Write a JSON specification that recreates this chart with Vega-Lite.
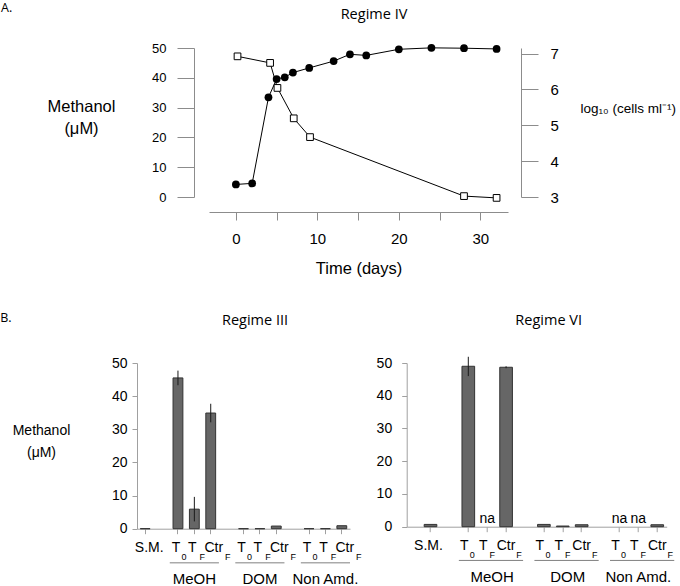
{
  "$schema": "https://vega.github.io/schema/vega-lite/v6.json",
  "padding": {"left": 0, "top": 2, "right": 0, "bottom": 0},
  "background": "white",
  "config": {
    "view": {"stroke": null},
    "font": "Liberation Sans",
    "axis": {"grid": false, "labelColor": "#000", "titleColor": "#000", "domainColor": "#8c8c8c", "tickColor": "#8c8c8c", "labelFont": "Liberation Sans", "titleFont": "Liberation Sans", "titleFontWeight": "normal"},
    "title": {"font": "Open Sans", "fontWeight": "normal", "color": "#000"}
  },
  "spacing": 35,
  "vconcat": [
    {
      "spacing": 0,
      "bounds": "flush",
      "hconcat": [
        {
          "width": 72, "height": 20,
          "data": {"values": []},
          "mark": "point",
          "title": {"text": "A.", "anchor": "start", "dx": -136, "offset": 33.5, "fontSize": 12.5}
        },
        {
          "width": 299, "height": 149,
          "title": {"text": "Regime IV", "frame": "group", "dx": 15.5, "offset": 20, "fontSize": 14.5},
          "encoding": {
            "x": {"field": "day", "type": "quantitative", "scale": {"domain": [-3.3, 33.4], "nice": false, "zero": false},
              "axis": {"orient": "bottom", "offset": 15, "values": [0, 5, 10, 15, 20, 25, 30], "labelExpr": "datum.value % 10 === 0 ? datum.label : ''", "tickSize": 8, "labelPadding": 11, "labelFontSize": 15, "title": "Time (days)", "titleFontSize": 16.5, "titlePadding": 14}}
          },
          "layer": [
            {
              "data": {"values": [
                {"day": 0, "log": 3.35}, {"day": 2, "log": 3.38}, {"day": 4, "log": 5.78}, {"day": 5, "log": 6.29},
                {"day": 6, "log": 6.34}, {"day": 7, "log": 6.47}, {"day": 9, "log": 6.6}, {"day": 12, "log": 6.79},
                {"day": 14, "log": 6.98}, {"day": 16, "log": 6.95}, {"day": 20, "log": 7.12}, {"day": 24, "log": 7.16},
                {"day": 28, "log": 7.15}, {"day": 32, "log": 7.13}
              ]},
              "encoding": {
                "y": {"field": "log", "type": "quantitative", "scale": {"domain": [3, 7.156], "nice": false, "zero": false},
                  "axis": {"orient": "right", "offset": 13, "values": [3, 4, 5, 6, 7], "tickSize": 17, "labelPadding": 12, "labelFontSize": 15, "labelOverlap": false, "title": "log₁₀ (cells ml⁻¹)", "titleAngle": 0, "titleAlign": "left", "titleBaseline": "middle", "titleX": 59, "titleY": 60, "titleFontSize": 13.5}}
              },
              "layer": [
                {"mark": {"type": "line", "color": "#000", "strokeWidth": 1}},
                {"mark": {"type": "point", "shape": "circle", "filled": true, "color": "#000", "size": 60, "opacity": 1}}
              ]
            },
            {
              "data": {"values": [
                {"day": 0.2, "methanol": 47.2}, {"day": 4.2, "methanol": 45.0}, {"day": 5.1, "methanol": 36.6},
                {"day": 7.1, "methanol": 26.4}, {"day": 9.1, "methanol": 20.1}, {"day": 28, "methanol": 0.3}, {"day": 32, "methanol": -0.3}
              ]},
              "encoding": {
                "y": {"field": "methanol", "type": "quantitative", "scale": {"domain": [0, 50], "nice": false, "zero": false},
                  "axis": {"orient": "left", "offset": 15, "values": [0, 10, 20, 30, 40, 50], "tickSize": 17, "labelPadding": 11, "labelFontSize": 13, "labelOverlap": false, "title": ["Methanol", "(μM)"], "titleAngle": 0, "titleAlign": "center", "titleBaseline": "top", "titleX": -113, "titleY": 50, "titleFontSize": 16.5, "titleLineHeight": 22}}
              },
              "layer": [
                {"mark": {"type": "line", "color": "#000", "strokeWidth": 1}},
                {"mark": {"type": "point", "shape": "square", "filled": true, "fill": "#fff", "stroke": "#000", "strokeWidth": 1, "size": 45, "opacity": 1}}
              ]
            }
          ],
          "resolve": {"scale": {"y": "independent"}}
        }
      ]
    },
    {
      "title": {"text": "B.", "anchor": "start", "frame": "bounds", "dx": -12, "offset": -12, "fontSize": 12.5},
      "spacing": 56.7,
      "bounds": "flush",
      "hconcat": [
        {
          "width": 213, "height": 165.7,
          "title": {"text": "Regime III", "frame": "group", "dx": 11.5, "offset": 28, "fontSize": 14.5},
          "resolve": {"axis": {"x": "independent"}},
          "layer": [
            {
              "data": {"values": [
                {"cat": "SM", "value": 0}, {"cat": "MeOH_T0", "value": 45.5}, {"cat": "MeOH_TF", "value": 5.9}, {"cat": "MeOH_Ctr", "value": 34.9},
                {"cat": "DOM_T0", "value": 0}, {"cat": "DOM_TF", "value": 0}, {"cat": "DOM_Ctr", "value": 0.8},
                {"cat": "Non_T0", "value": 0}, {"cat": "Non_TF", "value": 0}, {"cat": "Non_Ctr", "value": 0.9}
              ]},
              "mark": {"type": "bar", "fill": "#666666", "stroke": "#333333", "strokeWidth": 1, "width": {"band": 0.6}},
              "encoding": {
                "x": {"field": "cat", "type": "nominal", "scale": {"domain": ["SM", "sp1", "MeOH_T0", "MeOH_TF", "MeOH_Ctr", "sp2", "DOM_T0", "DOM_TF", "DOM_Ctr", "sp3", "Non_T0", "Non_TF", "Non_Ctr"], "paddingInner": 0, "paddingOuter": 0},
                  "axis": {"orient": "bottom", "values": ["SM", "MeOH_T0", "MeOH_TF", "MeOH_Ctr", "DOM_T0", "DOM_TF", "DOM_Ctr", "Non_T0", "Non_TF", "Non_Ctr"], "labelExpr": "datum.value == 'SM' ? 'S.M.' : test(/Ctr$/, datum.value) ? 'Ctr' : 'T'", "tickSize": 5, "labelPadding": 7, "labelFontSize": 14, "labelAngle": 0, "title": null, "domainColor": "#a0a0a0", "tickColor": "#a0a0a0",
                    "labelOffset": {"condition": [{"test": "datum.value == 'SM'", "value": 4}, {"test": "test(/Ctr$/, datum.value)", "value": 3}], "value": -2}}},
                "y": {"field": "value", "type": "quantitative", "scale": {"domain": [0, 50], "nice": false},
                  "axis": {"orient": "left", "values": [0, 10, 20, 30, 40, 50], "tickSize": 5, "labelPadding": 5, "labelFontSize": 14, "labelOverlap": false, "domainColor": "#a0a0a0", "tickColor": "#a0a0a0", "title": ["Methanol", "(μM)"], "titleAngle": 0, "titleAlign": "center", "titleBaseline": "top", "titleX": -96, "titleY": 60, "titleFontSize": 14, "titleLineHeight": 22}}
              }
            },
            {
              "data": {"values": [
                {"cat": "MeOH_T0", "lo": 43.3, "hi": 47.7}, {"cat": "MeOH_TF", "lo": 2.2, "hi": 9.6}, {"cat": "MeOH_Ctr", "lo": 32.1, "hi": 37.7}
              ]},
              "mark": {"type": "rule", "color": "#1a1a1a", "strokeWidth": 1},
              "encoding": {
                "x": {"field": "cat", "type": "nominal", "scale": {"domain": ["SM", "sp1", "MeOH_T0", "MeOH_TF", "MeOH_Ctr", "sp2", "DOM_T0", "DOM_TF", "DOM_Ctr", "sp3", "Non_T0", "Non_TF", "Non_Ctr"], "paddingInner": 0, "paddingOuter": 0},
                  "axis": {"orient": "bottom", "values": ["MeOH_T0", "MeOH_TF", "MeOH_Ctr", "DOM_T0", "DOM_TF", "DOM_Ctr", "Non_T0", "Non_TF", "Non_Ctr"], "labelExpr": "test(/T0$/, datum.value) ? '0' : 'F'", "ticks": false, "tickSize": 0, "domain": false, "labelPadding": 24, "labelFontSize": 9, "labelAngle": 0, "title": null,
                    "labelOffset": {"condition": [{"test": "test(/Ctr$/, datum.value)", "value": 17}, {"test": "test(/TF$/, datum.value)", "value": 8}], "value": 6}}},
                "y": {"field": "lo", "type": "quantitative", "axis": {"orient": "left", "values": [0, 10, 20, 30, 40, 50], "tickSize": 5, "labelPadding": 5, "labelFontSize": 14, "labelOverlap": false, "domainColor": "#a0a0a0", "tickColor": "#a0a0a0", "title": ["Methanol", "(μM)"], "titleAngle": 0, "titleAlign": "center", "titleBaseline": "top", "titleX": -96, "titleY": 60, "titleFontSize": 14, "titleLineHeight": 22}},
                "y2": {"field": "hi"}
              }
            },
            {
              "data": {"values": [
                {"group": "MeOH", "start": "MeOH_T0", "end": "MeOH_Ctr"}, {"group": "DOM", "start": "DOM_T0", "end": "DOM_Ctr"}, {"group": "Non Amd.", "start": "Non_T0", "end": "Non_Ctr"}
              ]},
              "mark": {"type": "rule", "color": "#808080", "strokeWidth": 1},
              "encoding": {
                "x": {"field": "start", "type": "nominal", "bandPosition": 0, "scale": {"domain": ["SM", "sp1", "MeOH_T0", "MeOH_TF", "MeOH_Ctr", "sp2", "DOM_T0", "DOM_TF", "DOM_Ctr", "sp3", "Non_T0", "Non_TF", "Non_Ctr"], "paddingInner": 0, "paddingOuter": 0},
                  "axis": {"orient": "bottom", "values": ["MeOH_TF", "DOM_TF", "Non_TF"], "labelExpr": "datum.value == 'MeOH_TF' ? 'MeOH' : datum.value == 'DOM_TF' ? 'DOM' : 'Non Amd.'", "ticks": false, "tickSize": 0, "domain": false, "labelPadding": 42.5, "labelFontSize": 15, "labelAngle": 0, "title": null}},
                "x2": {"field": "end", "bandPosition": 1},
                "y": {"datum": -10.3, "axis": {"orient": "left", "values": [0, 10, 20, 30, 40, 50], "tickSize": 5, "labelPadding": 5, "labelFontSize": 14, "labelOverlap": false, "domainColor": "#a0a0a0", "tickColor": "#a0a0a0", "title": ["Methanol", "(μM)"], "titleAngle": 0, "titleAlign": "center", "titleBaseline": "top", "titleX": -96, "titleY": 60, "titleFontSize": 14, "titleLineHeight": 22}}
              }
            }
          ]
        },
        {
          "width": 260, "height": 163.7,
          "title": {"text": "Regime VI", "frame": "group", "dx": 12, "offset": 28, "fontSize": 14.5},
          "resolve": {"axis": {"x": "independent"}},
          "layer": [
            {
              "data": {"values": [
                {"cat": "SM", "value": 0.7}, {"cat": "MeOH_T0", "value": 49.0}, {"cat": "MeOH_Ctr", "value": 48.7},
                {"cat": "DOM_T0", "value": 0.7}, {"cat": "DOM_TF", "value": 0.2}, {"cat": "DOM_Ctr", "value": 0.6},
                {"cat": "Non_Ctr", "value": 0.6}
              ]},
              "mark": {"type": "bar", "fill": "#666666", "stroke": "#333333", "strokeWidth": 1, "width": {"band": 0.67}},
              "encoding": {
                "x": {"field": "cat", "type": "nominal", "scale": {"domain": ["SM", "sp1", "MeOH_T0", "MeOH_TF", "MeOH_Ctr", "sp2", "DOM_T0", "DOM_TF", "DOM_Ctr", "sp3", "Non_T0", "Non_TF", "Non_Ctr"], "paddingInner": 0, "paddingOuter": 0.38, "align": 1},
                  "axis": {"orient": "bottom", "values": ["SM", "MeOH_T0", "MeOH_TF", "MeOH_Ctr", "DOM_T0", "DOM_TF", "DOM_Ctr", "Non_T0", "Non_TF", "Non_Ctr"], "labelExpr": "datum.value == 'SM' ? 'S.M.' : test(/Ctr$/, datum.value) ? 'Ctr' : 'T'", "tickSize": 5, "labelPadding": 7, "labelFontSize": 14, "labelAngle": 0, "title": null, "domainColor": "#a0a0a0", "tickColor": "#a0a0a0",
                    "labelOffset": {"condition": [{"test": "datum.value == 'SM'", "value": -2}, {"test": "test(/Ctr$/, datum.value)", "value": 0}], "value": -4}}},
                "y": {"field": "value", "type": "quantitative", "scale": {"domain": [0, 50], "nice": false},
                  "axis": {"orient": "left", "values": [0, 10, 20, 30, 40, 50], "tickSize": 5, "labelPadding": 10, "labelFontSize": 14, "labelOverlap": false, "domainColor": "#a0a0a0", "tickColor": "#a0a0a0", "title": null}}
              }
            },
            {
              "data": {"values": [
                {"cat": "MeOH_T0", "lo": 46.0, "hi": 51.9}, {"cat": "MeOH_Ctr", "lo": 48.4, "hi": 49.0}
              ]},
              "mark": {"type": "rule", "color": "#1a1a1a", "strokeWidth": 1},
              "encoding": {
                "x": {"field": "cat", "type": "nominal", "scale": {"domain": ["SM", "sp1", "MeOH_T0", "MeOH_TF", "MeOH_Ctr", "sp2", "DOM_T0", "DOM_TF", "DOM_Ctr", "sp3", "Non_T0", "Non_TF", "Non_Ctr"], "paddingInner": 0, "paddingOuter": 0.38, "align": 1},
                  "axis": {"orient": "bottom", "values": ["MeOH_T0", "MeOH_TF", "MeOH_Ctr", "DOM_T0", "DOM_TF", "DOM_Ctr", "Non_T0", "Non_TF", "Non_Ctr"], "labelExpr": "test(/T0$/, datum.value) ? '0' : 'F'", "ticks": false, "tickSize": 0, "domain": false, "labelPadding": 24, "labelFontSize": 9, "labelAngle": 0, "title": null,
                    "labelOffset": {"condition": [{"test": "test(/Ctr$/, datum.value)", "value": 13}, {"test": "test(/TF$/, datum.value)", "value": 5}], "value": 4}}},
                "y": {"field": "lo", "type": "quantitative", "axis": {"orient": "left", "values": [0, 10, 20, 30, 40, 50], "tickSize": 5, "labelPadding": 10, "labelFontSize": 14, "labelOverlap": false, "domainColor": "#a0a0a0", "tickColor": "#a0a0a0", "title": null}},
                "y2": {"field": "hi"}
              }
            },
            {
              "data": {"values": [
                {"group": "MeOH", "start": "MeOH_T0", "end": "MeOH_Ctr"}, {"group": "DOM", "start": "DOM_T0", "end": "DOM_Ctr"}, {"group": "Non Amd.", "start": "Non_T0", "end": "Non_Ctr"}
              ]},
              "mark": {"type": "rule", "color": "#808080", "strokeWidth": 1},
              "encoding": {
                "x": {"field": "start", "type": "nominal", "bandPosition": 0, "scale": {"domain": ["SM", "sp1", "MeOH_T0", "MeOH_TF", "MeOH_Ctr", "sp2", "DOM_T0", "DOM_TF", "DOM_Ctr", "sp3", "Non_T0", "Non_TF", "Non_Ctr"], "paddingInner": 0, "paddingOuter": 0.38, "align": 1},
                  "axis": {"orient": "bottom", "values": ["MeOH_TF", "DOM_TF", "Non_TF"], "labelExpr": "datum.value == 'MeOH_TF' ? 'MeOH' : datum.value == 'DOM_TF' ? 'DOM' : 'Non Amd.'", "ticks": false, "tickSize": 0, "domain": false, "labelPadding": 42.5, "labelFontSize": 15, "labelAngle": 0, "title": null,
                    "labelOffset": {"condition": {"test": "datum.value == 'Non_TF'", "value": 0}, "value": 5}}},
                "x2": {"field": "end", "bandPosition": 1.4},
                "y": {"datum": -10.3, "axis": {"orient": "left", "values": [0, 10, 20, 30, 40, 50], "tickSize": 5, "labelPadding": 10, "labelFontSize": 14, "labelOverlap": false, "domainColor": "#a0a0a0", "tickColor": "#a0a0a0", "title": null}}
              }
            },
            {
              "data": {"values": [
                {"cat": "MeOH_TF", "note": "na"}, {"cat": "Non_T0", "note": "na"}, {"cat": "Non_TF", "note": "na"}
              ]},
              "mark": {"type": "text", "baseline": "alphabetic", "dy": -4, "fontSize": 14, "color": "#000"},
              "encoding": {
                "x": {"field": "cat", "type": "nominal", "scale": {"domain": ["SM", "sp1", "MeOH_T0", "MeOH_TF", "MeOH_Ctr", "sp2", "DOM_T0", "DOM_TF", "DOM_Ctr", "sp3", "Non_T0", "Non_TF", "Non_Ctr"], "paddingInner": 0, "paddingOuter": 0.38, "align": 1}, "axis": null},
                "y": {"datum": 0, "axis": {"orient": "left", "values": [0, 10, 20, 30, 40, 50], "tickSize": 5, "labelPadding": 10, "labelFontSize": 14, "labelOverlap": false, "domainColor": "#a0a0a0", "tickColor": "#a0a0a0", "title": null}},
                "text": {"field": "note"}
              }
            }
          ]
        }
      ]
    }
  ]
}
